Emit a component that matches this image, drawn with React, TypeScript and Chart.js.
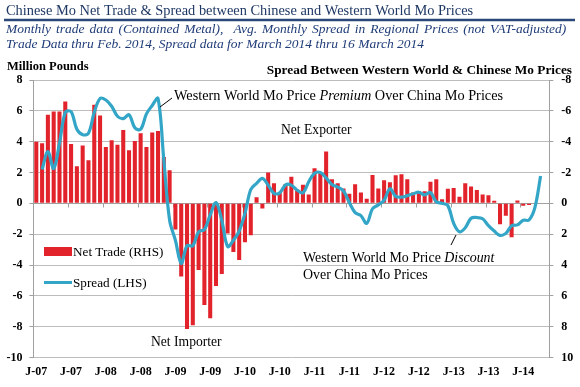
import { useEffect, useRef } from 'react';
import { Chart, registerables } from 'chart.js';

Chart.register(...registerables);

// ---- data ----
const TICK_LABELS = ['J-07', 'J-07', 'J-08', 'J-08', 'J-09', 'J-09', 'J-10', 'J-10', 'J-11', 'J-11', 'J-12', 'J-12', 'J-13', 'J-13', 'J-14'];
const YEARS = ['07', '08', '09', '10', '11', '12', '13', '14'];
const MONTHS = ['Jan', 'Feb', 'Mar', 'Apr', 'May', 'Jun', 'Jul', 'Aug', 'Sep', 'Oct', 'Nov', 'Dec'];
// monthly categories Jan-07 .. May-14
const CATEGORIES = YEARS.flatMap((y) => MONTHS.map((m) => `${m}-${y}`)).slice(0, 89);

// Net trade, million pounds, Jan-07 .. Feb-14
const NET_TRADE = [
  4.0, 3.9, 5.75, 5.95, 5.95, 6.6, 3.85, 2.4, 3.75, 2.8, 6.4, 5.7,
  3.65, 4.1, 3.8, 4.75, 3.45, 4.05, 4.55, 3.65, 4.6, 4.7, 3.0, 2.15,
  -1.7, -4.75, -8.15, -7.9, -4.33, -6.6, -7.45, -5.37, -4.58, -1.95, -3.16, -3.68,
  -2.53, -2.07, 0.4, -0.33, 2.0, 1.3, 0.68, 1.25, 1.73, 0.9, 1.2, 0.57,
  2.27, 1.97, 3.37, 1.56, 1.3, 0.97, 0.62, 1.23, 0.71, 0.3, 1.83, 0.96,
  1.5, 1.36, 1.82, 1.89, 1.56, 0.7, 0.8, 0.78, 1.4, 1.56, 0.26, 0.95,
  1.0, 0.43, 1.3, 1.1, 0.87, 0.58, 0.52, 0.17, -1.35, -0.8, -2.2, 0.18,
  -0.15, -0.1,
];

// Spread between Western World & Chinese Mo prices (right axis, reversed)
const SPREAD = [
  null, -2.2, -3.35, -2.25, -3.9, -5.9, -5.95, -4.8, -4.45, -4.55, -5.9, -6.8,
  -6.7, -6.3, -5.65, -5.5, -5.75, -4.9, -4.8, -5.8, -6.35, -6.8, -2.8, 1.1,
  2.4, 3.9, 2.75, 2.75, 1.85, 1.7, 0.75, -0.05, 1.1, 2.8, 2.4, 1.8,
  0.65, -0.9, -1.3, -1.62, -1.18, -0.65, -0.68, -1.2, -1.18, -0.85, -0.68, -1.4,
  -1.95, -2.0, -1.65, -1.22, -1.05, -0.8, -0.05, 0.6, 0.8, 1.3, 0.35, 0.1,
  -0.2, -0.95, -0.45, -0.4, -0.5, -0.62, -0.72, -0.55, -0.7, -0.1, 0.0, 0.15,
  1.3, 1.85, 1.58, 0.97, 0.92, 1.0, 1.45, 1.8, 2.08, 1.95, 1.45, 1.4,
  1.1, 1.08, 0.3, -1.77,
];

const LEFT_TICKS = [8, 6, 4, 2, 0, -2, -4, -6, -8, -10];
const RIGHT_TICKS = [-8, -6, -4, -2, 0, 2, 4, 6, 8, 10];

const SERIF = '"Liberation Serif", "Times New Roman", serif';
const BAR_COLOR = '#E2232B';
const LINE_COLOR = '#33A6C8';
const GRID = '#BDBDBD';
const AXIS = '#A0A0A0';

const overlay = {
  id: 'overlay',
  beforeDatasetsDraw(chart: any) {
    const { ctx, chartArea, scales } = chart;
    const y0 = Math.round(scales.y.getPixelForValue(0)) + 0.5;
    ctx.save();
    ctx.strokeStyle = AXIS;
    ctx.lineWidth = 1;
    ctx.beginPath();
    ctx.moveTo(chartArea.left, y0);
    ctx.lineTo(chartArea.right, y0);
    const xs = scales.x;
    for (let i = 6; i < CATEGORIES.length; i += 6) {
      const px = Math.round((xs.getPixelForValue(i - 1) + xs.getPixelForValue(i)) / 2) + 0.5;
      ctx.moveTo(px, y0);
      ctx.lineTo(px, y0 + 4);
    }
    ctx.stroke();
    ctx.restore();
  },
  afterDraw(chart: any) {
    const { ctx } = chart;
    ctx.save();
    ctx.textBaseline = 'alphabetic';
    // title
    ctx.fillStyle = '#1F3864';
    ctx.font = `14.4px ${SERIF}`;
    ctx.textAlign = 'left';
    ctx.fillText('Chinese Mo Net Trade & Spread between Chinese and Western World Mo Prices', 6, 15);
    ctx.strokeStyle = '#2B4779';
    ctx.lineWidth = 2.5;
    ctx.beginPath();
    ctx.moveTo(4, 20);
    ctx.lineTo(575, 20);
    ctx.stroke();
    // subtitle
    ctx.fillStyle = '#1F3C78';
    ctx.font = `italic 13.5px ${SERIF}`;
    (ctx as any).wordSpacing = '1.6px';
    ctx.fillText('Monthly trade data (Contained Metal),  Avg. Monthly Spread in Regional Prices (not VAT-adjusted)', 6, 33);
    (ctx as any).wordSpacing = '0px';
    ctx.fillText('Trade Data thru Feb. 2014, Spread data for March 2014 thru 16 March 2014', 6, 48);
    // axis titles
    ctx.fillStyle = '#000';
    ctx.font = `bold 12.5px ${SERIF}`;
    ctx.fillText('Million Pounds', 7, 70);
    ctx.textAlign = 'right';
    ctx.font = `bold 13.3px ${SERIF}`;
    ctx.fillText('Spread Between Western World & Chinese Mo Prices', 572, 74);
    // annotations
    ctx.textAlign = 'left';
    const mixed = (parts: [string, boolean][], x: number, y: number, size: number) => {
      let cx = x;
      for (const [t, it] of parts) {
        ctx.font = `${it ? 'italic ' : ''}${size}px ${SERIF}`;
        ctx.fillText(t, cx, y);
        cx += ctx.measureText(t).width;
      }
    };
    mixed([['Western World Mo Price ', false], ['Premium', true], [' Over China Mo Prices', false]], 174, 100, 14.3);
    mixed([['Net Exporter', false]], 281, 134, 13.6);
    mixed([['Net Importer', false]], 151, 346, 13.6);
    mixed([['Western World Mo Price ', false], ['Discount', true]], 303, 262, 13.9);
    mixed([['Over China Mo Prices', false]], 303, 279, 13.9);
    ctx.strokeStyle = '#000';
    ctx.lineWidth = 1;
    ctx.beginPath();
    ctx.moveTo(160, 107);
    ctx.lineTo(172, 98);
    ctx.moveTo(451, 245);
    ctx.lineTo(456, 235);
    ctx.stroke();
    // legend
    ctx.fillStyle = BAR_COLOR;
    ctx.fillRect(44, 247, 28, 9);
    ctx.strokeStyle = LINE_COLOR;
    ctx.lineWidth = 3;
    ctx.beginPath();
    ctx.moveTo(44, 282.5);
    ctx.lineTo(72, 282.5);
    ctx.stroke();
    ctx.fillStyle = '#000';
    ctx.font = `13.2px ${SERIF}`;
    ctx.fillText('Net Trade (RHS)', 73, 256);
    ctx.fillText('Spread (LHS)', 73, 287);
    ctx.restore();
  },
};

export default function App() {
  const ref = useRef<HTMLCanvasElement | null>(null);
  useEffect(() => {
    document.body.style.margin = '0';
    const canvas = ref.current;
    if (!canvas) return;
    const chart = new Chart(canvas, {
      type: 'bar',
      data: {
        labels: CATEGORIES,
        datasets: [
          {
            type: 'line',
            label: 'Spread (LHS)',
            data: SPREAD,
            yAxisID: 'y1',
            borderColor: LINE_COLOR,
            borderWidth: 3.2,
            pointRadius: 0,
            tension: 0.35,
            order: 0,
          } as any,
          {
            type: 'bar',
            label: 'Net Trade (RHS)',
            data: NET_TRADE,
            yAxisID: 'y',
            backgroundColor: BAR_COLOR,
            barPercentage: 0.7,
            categoryPercentage: 1,
            order: 1,
          },
        ],
      },
      options: {
        responsive: false,
        animation: false,
        devicePixelRatio: 1,
        layout: { autoPadding: false, padding: { top: 80, left: 0, right: 0, bottom: 0 } },
        plugins: { legend: { display: false }, tooltip: { enabled: false }, title: { display: false } },
        scales: {
          x: {
            type: 'category',
            offset: true,
            grid: { display: false, drawTicks: false },
            border: { display: false },
            ticks: {
              autoSkip: false,
              maxRotation: 0,
              minRotation: 0,
              padding: 7,
              color: '#000',
              font: { family: SERIF, size: 12, weight: 'bold' },
              callback: (_v: any, i: number) => (i % 6 === 0 ? TICK_LABELS[i / 6] ?? '' : ''),
            },
            afterFit: (s: any) => { s.height = 29.5; },
          },
          y: {
            position: 'left',
            min: -10,
            max: 8,
            afterBuildTicks: (s: any) => { s.ticks = LEFT_TICKS.map((v) => ({ value: v })); },
            grid: { color: GRID, lineWidth: 1, drawTicks: true, tickLength: 4, tickColor: AXIS },
            border: { display: true, color: AXIS },
            ticks: {
              padding: 7,
              color: '#000',
              font: { family: SERIF, size: 12, weight: 'bold' },
              callback: (v: any) => String(v),
            },
            afterFit: (s: any) => { s.width = 33.4; },
          },
          y1: {
            position: 'right',
            reverse: true,
            min: -8,
            max: 10,
            afterBuildTicks: (s: any) => { s.ticks = RIGHT_TICKS.map((v) => ({ value: v })); },
            grid: { drawOnChartArea: false, drawTicks: true, tickLength: 4, color: AXIS },
            border: { display: true, color: AXIS },
            ticks: {
              padding: 8,
              color: '#000',
              font: { family: SERIF, size: 12, weight: 'bold' },
              callback: (v: any) => String(v),
            },
            afterFit: (s: any) => { s.width = 30.7; },
          },
        },
      },
      plugins: [overlay],
    });
    return () => chart.destroy();
  }, []);
  return (
    <div style={{ position: 'absolute', left: 0, top: 0, width: 580, height: 387, background: '#fff' }}>
      <canvas ref={ref} width={580} height={387} style={{ width: 580, height: 387, display: 'block' }} />
    </div>
  );
}
